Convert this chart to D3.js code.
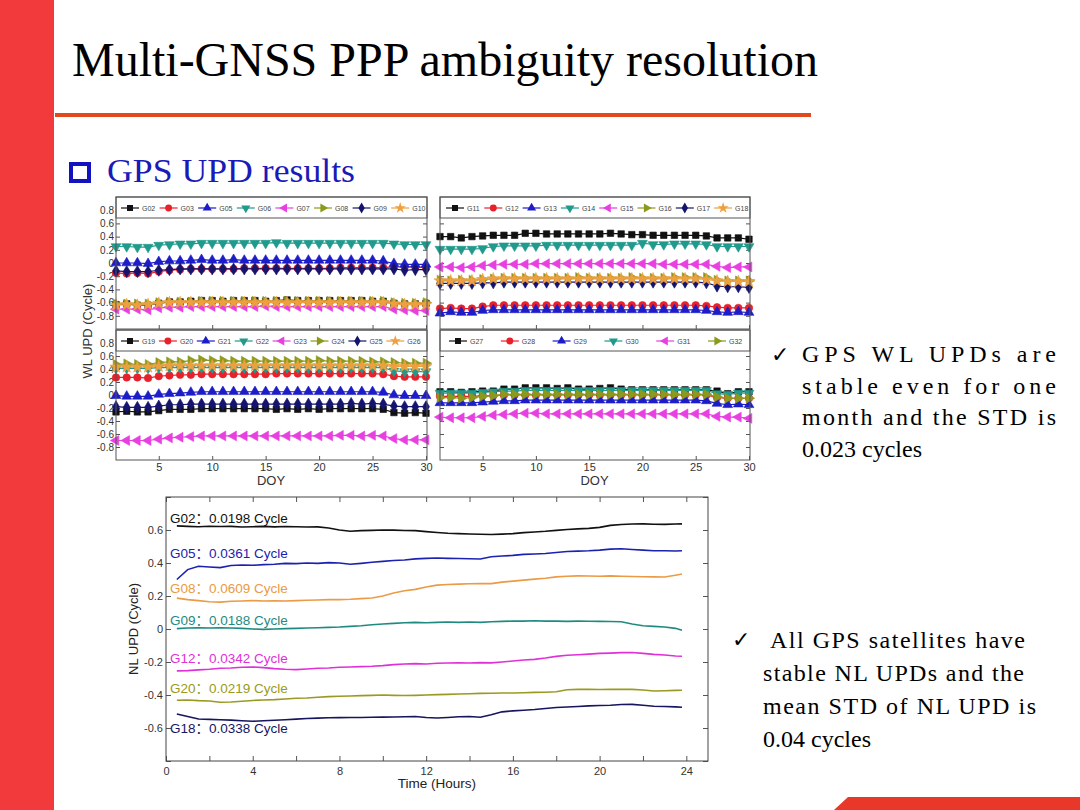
<!DOCTYPE html>
<html><head><meta charset="utf-8">
<script src="https://cdn.jsdelivr.net/npm/d3@7"></script>
<style>body{margin:0;background:#fff;} svg{display:block;}</style>
</head><body><svg id="c" width="1080" height="810"></svg>
<script>
// ---------------- DATA ----------------
const days = [1,2,3,4,5,6,7,8,9,10,11,12,13,14,15,16,17,18,19,20,21,22,23,24,25,26,27,28,29,30];
const wlTicksY = [-0.8,-0.6,-0.4,-0.2,0,0.2,0.4,0.6,0.8];
const wlTicksX = [5,10,15,20,25,30];

// panel 1: G02..G10
const names1 = ["G02","G03","G05","G06","G07","G08","G09","G10"];
const G02 = [-0.63,-0.62,-0.64,-0.64,-0.61,-0.59,-0.59,-0.58,-0.57,-0.57,-0.58,-0.57,-0.57,-0.57,-0.58,-0.57,-0.56,-0.57,-0.57,-0.57,-0.57,-0.57,-0.57,-0.57,-0.58,-0.58,-0.61,-0.62,-0.62,-0.61];
const G03 = [-0.15,-0.16,-0.15,-0.16,-0.13,-0.11,-0.10,-0.09,-0.09,-0.09,-0.09,-0.09,-0.08,-0.08,-0.08,-0.08,-0.08,-0.08,-0.08,-0.08,-0.08,-0.07,-0.07,-0.07,-0.07,-0.07,-0.06,-0.06,-0.06,-0.07];
const G05 = [0.00,0.00,0.00,-0.01,0.02,0.03,0.03,0.04,0.05,0.04,0.04,0.05,0.04,0.04,0.04,0.04,0.04,0.04,0.04,0.04,0.04,0.04,0.04,0.04,0.04,0.03,-0.01,-0.02,-0.02,-0.02];
const G06 = [0.25,0.25,0.24,0.24,0.27,0.28,0.29,0.29,0.30,0.30,0.30,0.30,0.30,0.30,0.30,0.31,0.30,0.30,0.30,0.30,0.30,0.30,0.30,0.30,0.30,0.30,0.29,0.28,0.28,0.28];
const G07 = [-0.70,-0.70,-0.70,-0.71,-0.68,-0.67,-0.67,-0.66,-0.66,-0.66,-0.66,-0.66,-0.66,-0.66,-0.65,-0.66,-0.66,-0.66,-0.66,-0.66,-0.66,-0.66,-0.66,-0.66,-0.66,-0.66,-0.70,-0.71,-0.72,-0.72];
const G08 = [-0.62,-0.62,-0.62,-0.62,-0.60,-0.59,-0.59,-0.59,-0.58,-0.58,-0.58,-0.58,-0.58,-0.58,-0.58,-0.58,-0.58,-0.58,-0.58,-0.58,-0.58,-0.58,-0.58,-0.58,-0.58,-0.58,-0.60,-0.61,-0.61,-0.60];
const G09 = [-0.12,-0.13,-0.13,-0.13,-0.11,-0.10,-0.09,-0.09,-0.09,-0.09,-0.09,-0.09,-0.09,-0.09,-0.09,-0.09,-0.09,-0.09,-0.09,-0.09,-0.09,-0.09,-0.09,-0.09,-0.09,-0.09,-0.09,-0.11,-0.10,-0.10];
const G10 = [-0.64,-0.63,-0.64,-0.63,-0.61,-0.60,-0.60,-0.60,-0.60,-0.60,-0.60,-0.60,-0.60,-0.60,-0.60,-0.60,-0.60,-0.60,-0.60,-0.60,-0.60,-0.60,-0.60,-0.60,-0.60,-0.60,-0.62,-0.63,-0.63,-0.63];

// panel 2: G11..G18
const names2 = ["G11","G12","G13","G14","G15","G16","G17","G18"];
const G11 = [0.40,0.40,0.38,0.40,0.41,0.42,0.42,0.42,0.45,0.45,0.44,0.44,0.44,0.44,0.44,0.44,0.45,0.44,0.43,0.43,0.42,0.42,0.42,0.42,0.42,0.41,0.38,0.38,0.38,0.36];
const G12 = [-0.69,-0.68,-0.69,-0.69,-0.66,-0.64,-0.64,-0.64,-0.64,-0.64,-0.64,-0.64,-0.64,-0.64,-0.64,-0.64,-0.64,-0.64,-0.64,-0.64,-0.64,-0.64,-0.64,-0.64,-0.64,-0.65,-0.67,-0.68,-0.68,-0.68];
const G13 = [-0.76,-0.74,-0.75,-0.75,-0.72,-0.71,-0.71,-0.71,-0.71,-0.71,-0.71,-0.71,-0.71,-0.71,-0.71,-0.71,-0.71,-0.71,-0.71,-0.71,-0.71,-0.71,-0.71,-0.71,-0.71,-0.72,-0.74,-0.75,-0.74,-0.75];
const G14 = [0.21,0.21,0.21,0.21,0.22,0.25,0.26,0.26,0.26,0.26,0.27,0.27,0.27,0.27,0.27,0.27,0.27,0.27,0.27,0.30,0.28,0.28,0.29,0.29,0.29,0.28,0.25,0.25,0.25,0.25];
const G15 = [-0.06,-0.06,-0.07,-0.06,-0.04,-0.03,-0.02,-0.02,-0.02,-0.01,-0.01,-0.01,-0.01,-0.01,-0.01,-0.01,-0.01,-0.01,-0.01,-0.01,-0.01,-0.02,-0.02,-0.02,-0.02,-0.02,-0.05,-0.07,-0.06,-0.06];
const G16 = [-0.26,-0.27,-0.26,-0.26,-0.25,-0.24,-0.23,-0.23,-0.23,-0.23,-0.23,-0.23,-0.23,-0.22,-0.23,-0.23,-0.23,-0.23,-0.22,-0.23,-0.23,-0.23,-0.22,-0.22,-0.22,-0.22,-0.26,-0.27,-0.27,-0.27];
const G17 = [-0.31,-0.31,-0.31,-0.31,-0.30,-0.30,-0.29,-0.29,-0.29,-0.29,-0.29,-0.29,-0.29,-0.29,-0.29,-0.29,-0.29,-0.29,-0.29,-0.29,-0.29,-0.29,-0.29,-0.29,-0.29,-0.30,-0.35,-0.36,-0.36,-0.37];
const G18 = [-0.27,-0.27,-0.27,-0.27,-0.25,-0.24,-0.24,-0.24,-0.24,-0.24,-0.24,-0.24,-0.24,-0.24,-0.24,-0.24,-0.24,-0.24,-0.24,-0.24,-0.24,-0.24,-0.24,-0.24,-0.24,-0.25,-0.27,-0.28,-0.28,-0.28];

// panel 3: G19..G26
const names3 = ["G19","G20","G21","G22","G23","G24","G25","G26"];
const G19 = [-0.26,-0.25,-0.26,-0.26,-0.24,-0.22,-0.22,-0.22,-0.21,-0.21,-0.21,-0.21,-0.21,-0.21,-0.21,-0.22,-0.21,-0.22,-0.21,-0.22,-0.21,-0.21,-0.21,-0.21,-0.21,-0.22,-0.27,-0.28,-0.27,-0.28];
const G20 = [0.27,0.27,0.27,0.26,0.29,0.30,0.31,0.31,0.32,0.32,0.32,0.32,0.32,0.32,0.32,0.33,0.33,0.33,0.33,0.33,0.33,0.33,0.33,0.33,0.33,0.32,0.29,0.28,0.28,0.28];
const G21 = [-0.01,-0.02,-0.02,-0.02,0.01,0.02,0.03,0.04,0.05,0.05,0.05,0.05,0.05,0.05,0.05,0.05,0.05,0.05,0.05,0.05,0.05,0.05,0.05,0.05,0.05,0.04,0.00,-0.01,-0.01,-0.01];
const G22 = [0.41,0.41,0.41,0.41,0.42,0.42,0.42,0.42,0.42,0.42,0.42,0.42,0.42,0.42,0.42,0.42,0.42,0.42,0.42,0.42,0.42,0.42,0.42,0.42,0.42,0.42,0.37,0.36,0.36,0.36];
const G23 = [-0.70,-0.70,-0.70,-0.70,-0.68,-0.66,-0.65,-0.64,-0.63,-0.63,-0.63,-0.63,-0.63,-0.63,-0.63,-0.63,-0.63,-0.63,-0.63,-0.63,-0.63,-0.62,-0.62,-0.63,-0.62,-0.63,-0.67,-0.69,-0.69,-0.69];
const G24 = [0.47,0.48,0.47,0.47,0.50,0.51,0.51,0.53,0.54,0.53,0.53,0.52,0.52,0.52,0.52,0.52,0.52,0.52,0.52,0.53,0.52,0.52,0.52,0.52,0.51,0.51,0.50,0.49,0.49,0.49];
const G25 = [-0.18,-0.19,-0.19,-0.19,-0.17,-0.15,-0.15,-0.14,-0.14,-0.14,-0.14,-0.14,-0.14,-0.14,-0.14,-0.14,-0.14,-0.14,-0.14,-0.14,-0.14,-0.14,-0.13,-0.14,-0.13,-0.14,-0.17,-0.18,-0.18,-0.18];
const G26 = [0.43,0.43,0.43,0.43,0.44,0.45,0.45,0.45,0.45,0.45,0.45,0.45,0.45,0.45,0.45,0.45,0.45,0.45,0.45,0.45,0.45,0.45,0.45,0.45,0.45,0.45,0.44,0.44,0.44,0.44];

// panel 4: G27..G32
const names4 = ["G27","G28","G29","G30","G31","G32"];
const G27 = [0.05,0.05,0.04,0.05,0.06,0.06,0.09,0.09,0.11,0.11,0.11,0.10,0.11,0.09,0.09,0.10,0.11,0.09,0.08,0.08,0.08,0.08,0.08,0.08,0.08,0.08,0.06,0.02,0.05,0.05];
const G28 = [-0.02,-0.02,-0.02,-0.02,-0.01,-0.01,0.00,0.00,0.00,0.00,0.00,0.00,0.00,0.00,0.00,0.00,0.00,0.00,0.00,0.00,0.00,0.00,0.00,0.00,0.00,0.00,-0.04,-0.05,-0.05,-0.05];
const G29 = [-0.12,-0.12,-0.12,-0.12,-0.11,-0.10,-0.09,-0.09,-0.08,-0.08,-0.08,-0.08,-0.08,-0.08,-0.08,-0.08,-0.08,-0.08,-0.08,-0.08,-0.08,-0.08,-0.08,-0.08,-0.08,-0.09,-0.13,-0.15,-0.14,-0.15];
const G30 = [0.03,0.03,0.03,0.03,0.04,0.05,0.06,0.06,0.07,0.07,0.07,0.07,0.07,0.07,0.07,0.07,0.07,0.07,0.07,0.07,0.07,0.07,0.07,0.07,0.07,0.07,0.02,0.01,0.03,0.03];
const G31 = [-0.34,-0.35,-0.35,-0.35,-0.33,-0.31,-0.30,-0.29,-0.28,-0.28,-0.29,-0.29,-0.29,-0.29,-0.29,-0.29,-0.29,-0.29,-0.29,-0.29,-0.29,-0.29,-0.29,-0.29,-0.29,-0.29,-0.33,-0.34,-0.34,-0.36];
const G32 = [-0.04,-0.04,-0.05,-0.04,-0.02,-0.01,0.01,0.01,0.01,0.01,0.01,0.01,0.01,0.01,0.01,0.01,0.01,0.01,0.01,0.01,0.01,0.01,0.01,0.01,0.01,0.01,-0.03,-0.05,-0.05,-0.05];

// NL UPD
const hours = [0.5,1,1.5,2,2.5,3,3.5,4,4.5,5,5.5,6,6.5,7,7.5,8,8.5,9,9.5,10,10.5,11,11.5,12,12.5,13,13.5,14,14.5,15,15.5,16,16.5,17,17.5,18,18.5,19,19.5,20,20.5,21,21.5,22,22.5,23,23.5,23.8];
const nlNames = ["G02","G05","G08","G09","G12","G20","G18"];
const nlStd = ["0.0198","0.0361","0.0609","0.0188","0.0342","0.0219","0.0338"];
const nlG02 = [0.625,0.622,0.620,0.623,0.621,0.622,0.618,0.620,0.622,0.619,0.621,0.620,0.618,0.619,0.612,0.600,0.592,0.596,0.598,0.600,0.599,0.597,0.596,0.590,0.585,0.580,0.578,0.576,0.574,0.573,0.575,0.578,0.584,0.588,0.592,0.598,0.603,0.607,0.610,0.616,0.628,0.633,0.636,0.637,0.635,0.634,0.636,0.637];
const nlG05 = [0.300,0.360,0.380,0.376,0.372,0.385,0.388,0.386,0.390,0.392,0.398,0.396,0.400,0.398,0.402,0.400,0.392,0.398,0.405,0.410,0.415,0.418,0.425,0.428,0.430,0.428,0.427,0.426,0.424,0.438,0.442,0.446,0.452,0.455,0.458,0.464,0.470,0.472,0.474,0.478,0.484,0.486,0.482,0.478,0.474,0.474,0.473,0.474];
const nlG08 = [0.187,0.178,0.172,0.165,0.163,0.168,0.170,0.172,0.170,0.171,0.170,0.172,0.174,0.176,0.178,0.178,0.180,0.184,0.188,0.200,0.218,0.232,0.240,0.255,0.266,0.270,0.272,0.274,0.276,0.275,0.284,0.290,0.296,0.302,0.308,0.316,0.320,0.322,0.321,0.320,0.322,0.320,0.318,0.317,0.316,0.315,0.326,0.333];
const nlG09 = [0.002,0.006,0.008,0.006,0.008,0.006,0.004,0.000,-0.002,0.000,0.002,0.004,0.006,0.008,0.010,0.012,0.016,0.020,0.026,0.030,0.034,0.038,0.040,0.038,0.040,0.042,0.040,0.042,0.040,0.044,0.046,0.048,0.048,0.050,0.048,0.048,0.046,0.048,0.047,0.046,0.045,0.044,0.030,0.020,0.016,0.012,0.004,-0.008];
const nlG12 = [-0.254,-0.252,-0.248,-0.244,-0.238,-0.236,-0.232,-0.230,-0.234,-0.240,-0.244,-0.246,-0.242,-0.238,-0.236,-0.232,-0.230,-0.228,-0.226,-0.222,-0.216,-0.212,-0.210,-0.212,-0.208,-0.206,-0.205,-0.206,-0.204,-0.205,-0.200,-0.194,-0.188,-0.184,-0.176,-0.166,-0.159,-0.156,-0.152,-0.148,-0.146,-0.143,-0.142,-0.148,-0.154,-0.158,-0.164,-0.165];
const nlG20 = [-0.432,-0.430,-0.434,-0.436,-0.444,-0.442,-0.438,-0.433,-0.430,-0.428,-0.424,-0.420,-0.418,-0.414,-0.410,-0.408,-0.406,-0.404,-0.402,-0.400,-0.402,-0.403,-0.402,-0.400,-0.398,-0.396,-0.394,-0.392,-0.390,-0.389,-0.388,-0.388,-0.386,-0.384,-0.383,-0.380,-0.368,-0.366,-0.366,-0.367,-0.366,-0.366,-0.366,-0.370,-0.376,-0.374,-0.372,-0.371];
const nlG18 = [-0.515,-0.530,-0.545,-0.548,-0.550,-0.552,-0.556,-0.559,-0.556,-0.553,-0.550,-0.546,-0.542,-0.540,-0.538,-0.537,-0.536,-0.536,-0.535,-0.534,-0.533,-0.532,-0.530,-0.536,-0.539,-0.536,-0.532,-0.530,-0.535,-0.520,-0.502,-0.496,-0.492,-0.488,-0.482,-0.476,-0.473,-0.470,-0.466,-0.464,-0.462,-0.458,-0.457,-0.462,-0.468,-0.470,-0.472,-0.474];
const nlTicksX = [0,2,4,6,8,10,12,14,16,18,20,22,24];
const nlTicksY = [-0.8,-0.6,-0.4,-0.2,0,0.2,0.4,0.6,0.8];

// text
const titleText = "Multi-GNSS PPP ambiguity resolution";
const subText = "GPS UPD results";
const note1 = ["GPS WL UPDs are","stable even for one","month and the STD is","0.023 cycles"];
const note2 = ["All GPS satellites have","stable NL UPDs and the","mean STD of NL UPD is","0.04 cycles"];

// ---------------- DRAW ----------------
const svg = d3.select("#c");
const SANS = "'Liberation Sans', Arial, 'Noto Sans CJK SC', sans-serif";
const SERIF = "'Liberation Serif', 'Times New Roman', serif";

svg.append("rect").attr("width",1080).attr("height",810).attr("fill","#fff");
svg.append("rect").attr("x",0).attr("y",0).attr("width",54).attr("height",810).attr("fill","#f23a3c");
svg.append("polygon").attr("points","834,810 848,797 1080,797 1080,810").attr("fill","#e8382a");

svg.append("text").attr("x",72).attr("y",76).attr("font-family",SERIF).attr("font-size",48)
  .attr("textLength",746).attr("lengthAdjust","spacingAndGlyphs").attr("fill","#000").text(titleText);
svg.append("rect").attr("x",55).attr("y",113).attr("width",756).attr("height",4).attr("fill","#e04a1e");

svg.append("rect").attr("x",71).attr("y",164).attr("width",18).attr("height",17)
  .attr("fill","none").attr("stroke","#1212c0").attr("stroke-width",4);
svg.append("text").attr("x",107).attr("y",182).attr("font-family",SERIF).attr("font-size",33)
  .attr("textLength",248).attr("lengthAdjust","spacingAndGlyphs").attr("fill","#1a1ab8").text(subText);

// right notes
svg.append("text").attr("x",771).attr("y",362).attr("font-family","'DejaVu Sans'").attr("font-size",22).attr("fill","#000").text("✓");
note1.forEach((t,i)=>{
  const tx = svg.append("text").attr("x",802).attr("y",362+i*31.7).attr("font-family",SERIF)
    .attr("font-size",24).attr("fill","#000").text(t);
  if(i<3) tx.attr("textLength",254).attr("lengthAdjust","spacing");
});
svg.append("text").attr("x",732).attr("y",647).attr("font-family","'DejaVu Sans'").attr("font-size",22).attr("fill","#000").text("✓");
const note2X = [770,763,763,763], note2L = [255,261,273,null];
note2.forEach((t,i)=>{
  const tx = svg.append("text").attr("x",note2X[i]).attr("y",648+i*33).attr("font-family",SERIF)
    .attr("font-size",24).attr("fill","#000").text(t);
  if(note2L[i]) tx.attr("textLength",note2L[i]).attr("lengthAdjust","spacing");
});

// WL panels
const wlColors = ["#111111","#e8202a","#1c1cc8","#1f9a8c","#e840e0","#8c9a1c","#14146e","#eea040"];
const symDefs = [
  {t:d3.symbolSquare,r:0,s:42},{t:d3.symbolCircle,r:0,s:44},{t:d3.symbolTriangle,r:0,s:42},
  {t:d3.symbolTriangle,r:180,s:42},{t:d3.symbolTriangle,r:-90,s:42},{t:d3.symbolTriangle,r:90,s:42},
  {t:d3.symbolDiamond,r:0,s:42},{t:d3.symbolStar,r:0,s:46}
];
const panels = [
  {names:names1, data:[G02,G03,G05,G06,G07,G08,G09,G10], x0:116, x1:426, yt:197, yb:329, lx:130, ls:38.6, yl:true, xl:false},
  {names:names2, data:[G11,G12,G13,G14,G15,G16,G17,G18], x0:440, x1:749, yt:197, yb:329, lx:455, ls:38.3, yl:false, xl:false},
  {names:names3, data:[G19,G20,G21,G22,G23,G24,G25,G26], x0:116, x1:426, yt:330, yb:460, lx:130, ls:37.9, yl:true, xl:true},
  {names:names4, data:[G27,G28,G29,G30,G31,G32], x0:440, x1:749, yt:330, yb:460, lx:458, ls:51.8, yl:false, xl:true}
];
function styleAxis(g, size){
  g.select(".domain").remove();
  g.selectAll(".tick line").attr("stroke","#555");
  g.selectAll(".tick text").attr("font-family",SANS).attr("font-size",size).attr("fill","#333");
}
panels.forEach(p=>{
  const x = d3.scaleLinear().domain([1,30]).range([p.x0,p.x1]);
  const y = d3.scaleLinear().domain([-1,1]).range([p.yb,p.yt]);
  const g = svg.append("g");
  g.append("rect").attr("x",p.x0).attr("y",p.yt).attr("width",p.x1+1-p.x0).attr("height",p.yb-p.yt)
    .attr("fill","#fff");
  const yl = g.append("g").attr("transform",`translate(${p.x0},0)`)
    .call(d3.axisLeft(y).tickValues(wlTicksY).tickSize(-4).tickPadding(2)
      .tickFormat(p.yl ? (d=> d===0 ? "0" : d.toFixed(1)) : ""));
  styleAxis(yl, 10);
  const yr = g.append("g").attr("transform",`translate(${p.x1+1},0)`)
    .call(d3.axisRight(y).tickValues(wlTicksY).tickSize(-4).tickFormat(""));
  styleAxis(yr, 10);
  const xa = g.append("g").attr("transform",`translate(0,${p.yb})`)
    .call(d3.axisBottom(x).tickValues(wlTicksX).tickSize(-4).tickPadding(3).tickFormat(p.xl ? d3.format("d") : ""));
  styleAxis(xa, 11);
  const line = d3.line().x((d,i)=>x(days[i])).y(d=>y(d));
  p.data.forEach((s,k)=>{
    const c = wlColors[k], sd = symDefs[k];
    g.append("path").attr("d",line(s)).attr("fill","none").attr("stroke",c).attr("stroke-width",1.2);
    g.selectAll(null).data(s).enter().append("path")
      .attr("d",d3.symbol().type(sd.t).size(sd.s))
      .attr("transform",(d,i)=>`translate(${x(days[i])},${y(d)}) rotate(${sd.r})`)
      .attr("fill",c).attr("stroke",c).attr("stroke-width",0.6);
  });
  // legend
  g.append("rect").attr("x",p.x0).attr("y",p.yt).attr("width",p.x1+1-p.x0).attr("height",21)
    .attr("fill","#fff").attr("stroke","#555").attr("stroke-width",1);
  p.names.forEach((n,k)=>{
    const cx = p.lx + k*p.ls, cy = p.yt+11, c = wlColors[k], sd = symDefs[k];
    g.append("line").attr("x1",cx-9).attr("x2",cx+9).attr("y1",cy).attr("y2",cy).attr("stroke",c).attr("stroke-width",1.2);
    g.append("path").attr("d",d3.symbol().type(sd.t).size(sd.s*0.85)).attr("transform",`translate(${cx},${cy}) rotate(${sd.r})`).attr("fill",c);
    g.append("text").attr("x",cx+12).attr("y",cy+2.5).attr("font-family",SANS).attr("font-size",7).attr("fill","#444").text(n);
  });
  g.append("rect").attr("x",p.x0).attr("y",p.yt).attr("width",p.x1+1-p.x0).attr("height",p.yb-p.yt)
    .attr("fill","none").attr("stroke","#555").attr("stroke-width",1);
  if(p.xl){
    g.append("text").attr("x",(p.x0+p.x1)/2).attr("y",485).attr("text-anchor","middle")
      .attr("font-family",SANS).attr("font-size",13).attr("fill","#333").text("DOY");
  }
});
svg.append("text").attr("transform","translate(92,331) rotate(-90)").attr("text-anchor","middle")
  .attr("font-family",SANS).attr("font-size",13).attr("fill","#333").text("WL UPD (Cycle)");

// NL chart
const nlColors = ["#111111","#1c22b0","#eb9a45","#1f8a80","#e030d8","#9a9a22","#16165e"];
const nlData = [nlG02,nlG05,nlG08,nlG09,nlG12,nlG20,nlG18];
const nlLabelY = [523,558,593,625,663,693,733];
const nx = d3.scaleLinear().domain([0,25]).range([166,708]);
const ny = d3.scaleLinear().domain([-0.8,0.8]).range([761,497]);
const ng = svg.append("g");
ng.append("rect").attr("x",166).attr("y",497).attr("width",542).attr("height",264).attr("fill","#fff");
const nyl = ng.append("g").attr("transform","translate(166,0)")
  .call(d3.axisLeft(ny).tickValues(nlTicksY).tickSize(-5).tickPadding(3)
    .tickFormat(d=> Math.abs(d)>0.7 ? "" : (d===0 ? "0" : d.toFixed(1))));
styleAxis(nyl, 11);
const nyr = ng.append("g").attr("transform","translate(708,0)")
  .call(d3.axisRight(ny).tickValues(nlTicksY).tickSize(-5).tickFormat(""));
styleAxis(nyr, 11);
const nxb = ng.append("g").attr("transform","translate(0,761)")
  .call(d3.axisBottom(nx).tickValues(nlTicksX).tickSize(-5).tickPadding(6)
    .tickFormat(d=> d%4===0 ? String(d) : ""));
styleAxis(nxb, 11);
const nxt = ng.append("g").attr("transform","translate(0,497)")
  .call(d3.axisTop(nx).tickValues(nlTicksX).tickSize(-5).tickFormat(""));
styleAxis(nxt, 11);
const nline = d3.line().x((d,i)=>nx(hours[i])).y(d=>ny(d));
nlData.forEach((s,k)=>{
  ng.append("path").attr("d",nline(s)).attr("fill","none").attr("stroke",nlColors[k]).attr("stroke-width",1.6);
  ng.append("text").attr("x",170).attr("y",nlLabelY[k]).attr("font-family",SANS).attr("font-size",13.5)
    .attr("fill",nlColors[k]).text(nlNames[k]+"："+nlStd[k]+" Cycle");
});
ng.append("rect").attr("x",166).attr("y",497).attr("width",542).attr("height",264)
  .attr("fill","none").attr("stroke","#444").attr("stroke-width",1);
svg.append("text").attr("x",437).attr("y",788).attr("text-anchor","middle").attr("font-family",SANS)
  .attr("font-size",13.5).attr("fill","#222").text("Time (Hours)");
svg.append("text").attr("transform","translate(138,629) rotate(-90)").attr("text-anchor","middle")
  .attr("font-family",SANS).attr("font-size",13).attr("fill","#222").text("NL UPD (Cycle)");
</script></body></html>
